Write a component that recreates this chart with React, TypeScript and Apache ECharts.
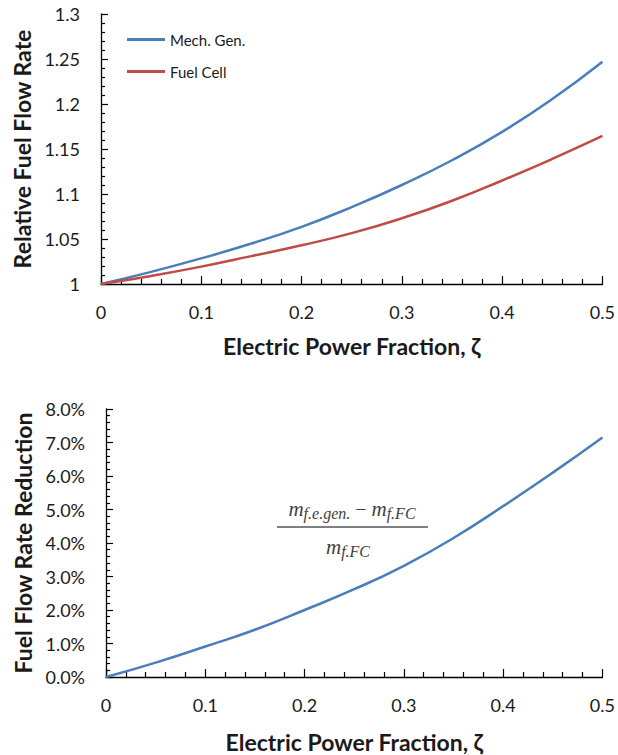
import React, { useEffect, useRef } from "react";
import * as echarts from "echarts";

const zeta = [0, 0.05, 0.1, 0.15, 0.2, 0.25, 0.3, 0.35, 0.4, 0.45, 0.5];
const mechGen = [1, 1.0135, 1.0285, 1.045, 1.0635, 1.0855, 1.11, 1.1375, 1.169, 1.2055, 1.247];
const fuelCell = [1, 1.009, 1.0193, 1.031, 1.043, 1.0565, 1.073, 1.0925, 1.115, 1.139, 1.1645];
const reduction = [0, 0.43, 0.91, 1.41, 2.0, 2.62, 3.32, 4.15, 5.1, 6.1, 7.15];

const seriesNames = ["Mech. Gen.", "Fuel Cell"];
const xAxisTitle = "Electric Power Fraction, ζ";
const yTitleTop = "Relative Fuel Flow Rate";
const yTitleBottom = "Fuel Flow Rate Reduction";

const FONT = "Lato, 'Open Sans', sans-serif";
const TXT = "#1a1a1a";
const BLUE = "#4a7ebb";
const RED = "#be4b48";
const FORMULA = "#404040";
const SERIF = "'Liberation Serif', 'DejaVu Serif', serif";

function pairs(xs: number[], ys: number[]) {
  return xs.map((x, i) => [x, ys[i]]);
}

export default function App() {
  const ref = useRef<HTMLDivElement>(null);
  useEffect(() => {
    if (!ref.current) return;
    const chart = echarts.init(ref.current, undefined, { renderer: "svg" });
    const axisLine = { show: true, lineStyle: { color: "#000", width: 1.3 } };
    const titleStyle = { fontFamily: FONT, fontSize: 23, fontWeight: "bold", color: TXT };
    const xAxisBase = (gridIndex: number, gap: number) => ({
      type: "value",
      gridIndex,
      min: 0,
      max: 0.5,
      interval: 0.1,
      axisLine,
      axisTick: { show: true, inside: true, length: 8, lineStyle: { color: "#000", width: 1.2 } },
      minorTick: { show: true, splitNumber: 5, length: 5, lineStyle: { color: "#000", width: 1.2 } },
      splitLine: { show: false },
      axisLabel: { fontFamily: FONT, fontSize: 18, color: TXT, margin: 19 },
      name: xAxisTitle,
      nameLocation: "middle",
      nameGap: gap,
      nameTextStyle: titleStyle,
    });
    const subRich = {
      m: { fontFamily: SERIF, fontStyle: "italic", fontSize: 21, fill: FORMULA },
      s: { fontFamily: SERIF, fontStyle: "italic", fontSize: 16, padding: [9, 0, 0, 0], fill: FORMULA },
      o: { fontFamily: SERIF, fontSize: 20, fill: FORMULA },
    };
    const option: any = {
      animation: false,
      grid: [
        { left: 101, top: 14, width: 504, height: 270 },
        { left: 106, top: 409, width: 499, height: 268 },
      ],
      legend: {
        data: seriesNames,
        orient: "vertical",
        left: 122,
        top: 27,
        icon: "rect",
        itemWidth: 38,
        itemHeight: 3,
        itemGap: 17,
        textStyle: { fontFamily: FONT, fontSize: 15, color: TXT },
      },
      xAxis: [xAxisBase(0, 50), xAxisBase(1, 53)],
      yAxis: [
        {
          type: "value",
          gridIndex: 0,
          min: 1,
          max: 1.3,
          interval: 0.05,
          axisLine,
          axisTick: { show: true, inside: true, length: 7, lineStyle: { color: "#000", width: 1.2 } },
          minorTick: { show: true, splitNumber: 5, length: 4, lineStyle: { color: "#000", width: 1.2 } },
          splitLine: { show: false },
          axisLabel: { fontFamily: FONT, fontSize: 18, color: TXT, margin: 21 },
          name: yTitleTop,
          nameLocation: "middle",
          nameGap: 67,
          nameTextStyle: titleStyle,
        },
        {
          type: "value",
          gridIndex: 1,
          min: 0,
          max: 8,
          interval: 1,
          axisLine,
          axisTick: { show: true, inside: true, length: 7, lineStyle: { color: "#000", width: 1.2 } },
          minorTick: { show: true, splitNumber: 5, length: 4, lineStyle: { color: "#000", width: 1.2 } },
          splitLine: { show: false },
          axisLabel: {
            fontFamily: FONT,
            fontSize: 18,
            color: TXT,
            margin: 21,
            formatter: (v: number) => v.toFixed(1) + "%",
          },
          name: yTitleBottom,
          nameLocation: "middle",
          nameGap: 71,
          nameTextStyle: titleStyle,
        },
      ],
      series: [
        {
          name: seriesNames[0],
          type: "line",
          xAxisIndex: 0,
          yAxisIndex: 0,
          data: pairs(zeta, mechGen),
          smooth: true,
          symbol: "none",
          lineStyle: { color: BLUE, width: 2.5 },
          itemStyle: { color: BLUE },
        },
        {
          name: seriesNames[1],
          type: "line",
          xAxisIndex: 0,
          yAxisIndex: 0,
          data: pairs(zeta, fuelCell),
          smooth: true,
          symbol: "none",
          lineStyle: { color: RED, width: 2.5 },
          itemStyle: { color: RED },
        },
        {
          name: "Reduction",
          type: "line",
          xAxisIndex: 1,
          yAxisIndex: 1,
          data: pairs(zeta, reduction),
          smooth: true,
          symbol: "none",
          lineStyle: { color: BLUE, width: 2.5 },
          itemStyle: { color: BLUE },
        },
      ],
      graphic: [
        {
          type: "text",
          x: 352,
          y: 509,
          style: {
            text: "{m|m}{s|f.e.gen.}{o| − }{m|m}{s|f.FC}",
            align: "center",
            verticalAlign: "middle",
            fill: FORMULA,
            rich: subRich,
          },
        },
        {
          type: "rect",
          shape: { x: 277, y: 526, width: 151, height: 2 },
          style: { fill: "#7f7f7f" },
        },
        {
          type: "text",
          x: 348,
          y: 547,
          style: {
            text: "{m|m}{s|f.FC}",
            align: "center",
            verticalAlign: "middle",
            fill: FORMULA,
            rich: subRich,
          },
        },
      ],
    };
    chart.setOption(option);
    return () => chart.dispose();
  }, []);
  return (
    <div
      ref={ref}
      style={{ position: "fixed", left: 0, top: 0, width: 618, height: 755, background: "#fff" }}
    />
  );
}
